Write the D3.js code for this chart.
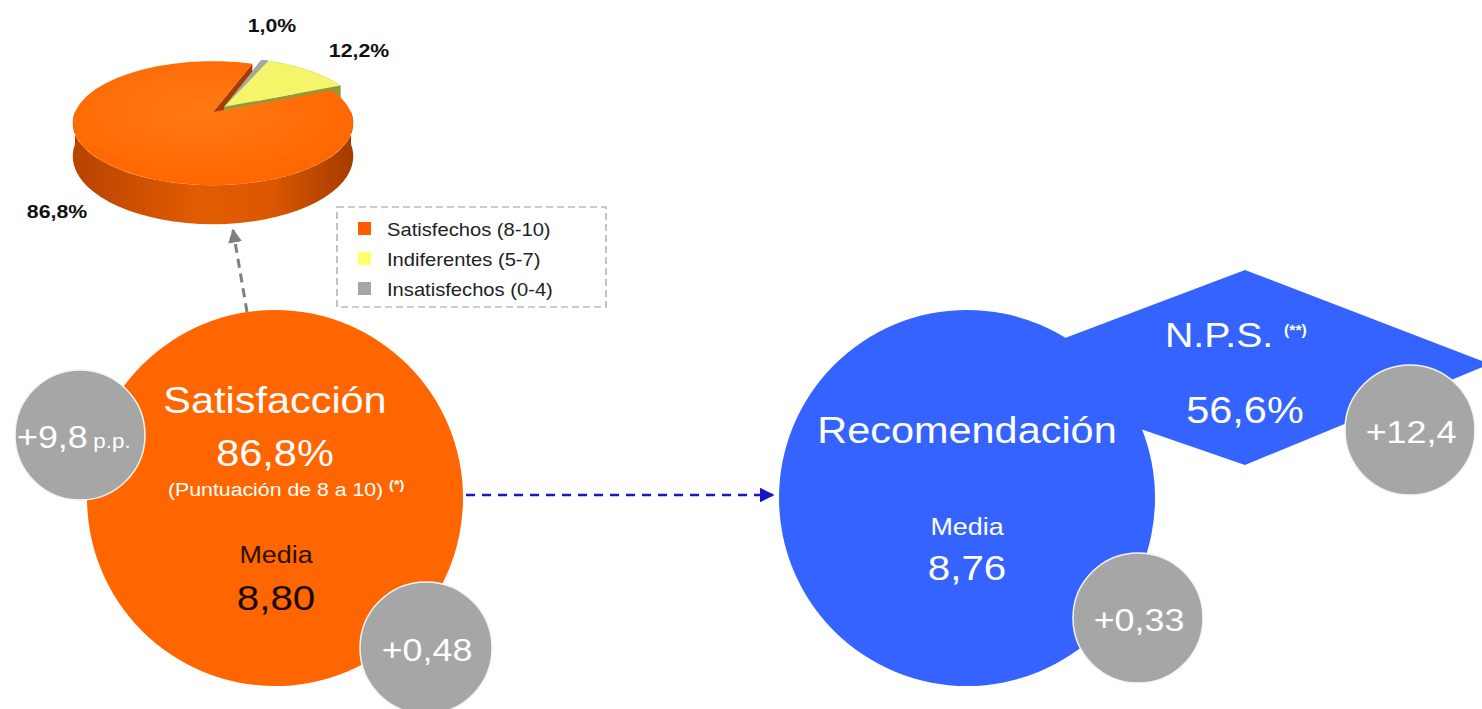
<!DOCTYPE html>
<html>
<head>
<meta charset="utf-8">
<script src="https://cdn.jsdelivr.net/npm/d3@7.9.0/dist/d3.min.js"></script>
<style>
  body { margin: 0; background: #fff; }
  svg { display: block; font-family: 'Liberation Sans', Arial, sans-serif; }
</style>
</head>
<body>
<script>
// ─── DATA ────────────────────────────────────────────────────────────────────
const segments = ['Satisfechos (8-10)', 'Indiferentes (5-7)', 'Insatisfechos (0-4)'];
const shares   = [86.8, 12.2, 1.0];
const segColors = ['#ff6600', '#f5f56a', '#a6a6a6'];

const pctNames   = ['Satisfacción', 'N.P.S.'];
const pctValues  = [86.8, 56.6];
const pctDeltas  = [9.8, 12.4];
const mediaNames = ['Satisfacción', 'Recomendación'];
const medias     = [8.80, 8.76];
const mediaDeltas = [0.48, 0.33];

// ─── SETUP ───────────────────────────────────────────────────────────────────
const W = 1482, H = 709, SX = 1.12;
const loc = d3.formatLocale({ decimal: ',', thousands: '.', grouping: [3], currency: ['', '€'] });
const f1 = loc.format('.1f'), f2 = loc.format('.2f'), s1 = loc.format('+.1f'), s2 = loc.format('+.2f');
const pct = v => f1(v) + '%';

const svg = d3.select('body').append('svg').attr('width', W).attr('height', H);
const defs = svg.append('defs');

const wallGrad = defs.append('linearGradient').attr('id', 'wall')
  .attr('gradientUnits', 'userSpaceOnUse').attr('x1', 74).attr('x2', 352).attr('y1', 0).attr('y2', 0);
[['0', '#b84300'], ['0.45', '#e25c00'], ['0.7', '#dc5800'], ['1', '#a63c00']]
  .forEach(([o, c]) => wallGrad.append('stop').attr('offset', o).attr('stop-color', c));
const topGrad = defs.append('radialGradient').attr('id', 'top').attr('cx', '45%').attr('cy', '40%').attr('r', '60%');
[['0', '#ff7a14'], ['1', '#ff6600']].forEach(([o, c]) => topGrad.append('stop').attr('offset', o).attr('stop-color', c));

function marker(id, color, size) {
  defs.append('marker').attr('id', id)
    .attr('viewBox', '0 0 10 10').attr('refX', 9).attr('refY', 5)
    .attr('markerUnits', 'userSpaceOnUse')
    .attr('markerWidth', size).attr('markerHeight', size).attr('orient', 'auto')
    .append('path').attr('d', 'M0,0L10,5L0,10Z').attr('fill', color);
}
marker('arrGrey', '#7f7f7f', 14);
marker('arrBlue', '#1616c8', 15);

function label(g, x, y, str, size, opts = {}) {
  return g.append('text')
    .attr('transform', `translate(${x},${y}) scale(${SX},1)`)
    .attr('text-anchor', opts.anchor || 'middle')
    .attr('fill', opts.fill || '#fff')
    .style('font-size', size + 'px')
    .style('font-weight', opts.weight || 'normal')
    .text(str);
}

// ─── 3D PIE ──────────────────────────────────────────────────────────────────
const pieG = svg.append('g');
const cx = 213, cy = 112, rx = 138, ry = 60, persp = 0.18, depth = 32;
const START = 19.5 * Math.PI / 180;

function P(a, r, z, off) {
  const u = r * Math.sin(a) + off[0], v = r * Math.cos(a) + off[1];
  const s = 1 + persp * v;
  return [cx + rx * u / s, cy - ry * v / s + z * depth / s];
}

const pieData = segments.map((name, i) => ({ name, value: shares[i], color: segColors[i], idx: i })).reverse();
const arcs = d3.pie().sort(null).value(d => d.value)
  .startAngle(START).endAngle(START + 2 * Math.PI)(pieData);

// slices other than the main one are pulled out together
const rest = arcs.filter(a => a.data.idx !== 0);
const restMid = (d3.min(rest, a => a.startAngle) + d3.max(rest, a => a.endAngle)) / 2;
const explode = [0.12 * Math.sin(restMid), 0.12 * Math.cos(restMid)];
arcs.forEach(a => { a.off = a.data.idx === 0 ? [0, 0] : explode; });

const line = d3.line();
const rim = (a, z, a0, a1) => d3.range(41).map(i => P(a0 + (a1 - a0) * i / 40, 1, z, a.off));
const topPath = a => line([P(0, 0, 0, a.off), ...rim(a, 0, a.startAngle, a.endAngle)]) + 'Z';
const wallPath = (a, a0, a1) => line([...rim(a, 0, a0, a1), ...rim(a, 1, a0, a1).reverse()]) + 'Z';
const facePath = (a, ang) => line([P(ang, 0, 0, a.off), P(ang, 1, 0, a.off), P(ang, 1, 1, a.off), P(ang, 0, 1, a.off)]) + 'Z';

const darker = { 0: '#a83c00', 1: '#8e9a3c', 2: '#747474' };
const main = arcs.find(a => a.data.idx === 0);

// radial faces of the main slice
[main.startAngle, main.endAngle].forEach(ang =>
  pieG.append('path').attr('d', facePath(main, ang)).attr('fill', darker[0]));

// pulled-out slices
rest.forEach(a => {
  pieG.append('path').attr('d', wallPath(a, a.startAngle, a.endAngle)).attr('fill', darker[a.data.idx]);
  [a.startAngle, a.endAngle].forEach(ang =>
    pieG.append('path').attr('d', facePath(a, ang)).attr('fill', darker[a.data.idx]));
});
rest.forEach(a => pieG.append('path').attr('d', topPath(a)).attr('fill', a.data.color));

// main slice wall (front part) and top
pieG.append('path')
  .attr('d', wallPath(main, Math.max(main.startAngle, Math.PI / 2), Math.min(main.endAngle, 3 * Math.PI / 2)))
  .attr('fill', 'url(#wall)');
pieG.append('path').attr('d', topPath(main)).attr('fill', 'url(#top)');

// pie labels
const lblPos = { 0: [57, 218], 1: [359, 57], 2: [272, 32] };
arcs.forEach(a => label(pieG, lblPos[a.data.idx][0], lblPos[a.data.idx][1], pct(a.data.value), 19,
  { fill: '#111', weight: 'bold' }));

// ─── LEGEND ──────────────────────────────────────────────────────────────────
const legend = svg.append('g').attr('transform', 'translate(337,207)');
legend.append('rect').attr('width', 269).attr('height', 100)
  .attr('fill', 'none').attr('stroke', '#9a9a9a').attr('stroke-width', 1.2).attr('stroke-dasharray', '7,4');
segments.forEach((s, i) => {
  const row = legend.append('g').attr('transform', `translate(21,${22 + i * 30})`);
  row.append('rect').attr('y', -7).attr('width', 13).attr('height', 13)
    .attr('fill', i === 0 ? '#ff5a00' : i === 1 ? '#ffff66' : segColors[2]);
  label(row, 29, 7, s, 18, { anchor: 'start', fill: '#222' });
});

// ─── CONNECTORS ──────────────────────────────────────────────────────────────
svg.append('line').attr('x1', 247).attr('y1', 312).attr('x2', 233).attr('y2', 230)
  .attr('stroke', '#7f7f7f').attr('stroke-width', 3).attr('stroke-dasharray', '9,6')
  .attr('marker-end', 'url(#arrGrey)');
svg.append('line').attr('x1', 466).attr('y1', 495).attr('x2', 773).attr('y2', 495)
  .attr('stroke', '#1616c8').attr('stroke-width', 2.5).attr('stroke-dasharray', '9,7')
  .attr('marker-end', 'url(#arrBlue)');

// ─── BUBBLES ─────────────────────────────────────────────────────────────────
const BLUE = '#3563ff', ORANGE = '#ff6600', GREY = '#a6a6a6';

// N.P.S. diamond behind recommendation bubble
svg.append('path')
  .attr('d', line([[1245, 270], [1490, 364], [1245, 465], [975, 372]]) + 'Z')
  .attr('fill', BLUE);

svg.append('circle').attr('cx', 275).attr('cy', 498).attr('r', 188).attr('fill', ORANGE);
svg.append('circle').attr('cx', 967).attr('cy', 498).attr('r', 188).attr('fill', BLUE);

const badges = [
  { x: 80,   y: 435, r: 65, main: s1(pctDeltas[0]), unit: 'p.p.' },
  { x: 426,  y: 648, r: 66, main: s2(mediaDeltas[0]) },
  { x: 1138, y: 618, r: 65, main: s2(mediaDeltas[1]) },
  { x: 1410, y: 430, r: 65, main: s1(pctDeltas[1]) }
];
badges.forEach(b => {
  svg.append('circle').attr('cx', b.x).attr('cy', b.y).attr('r', b.r)
    .attr('fill', GREY).attr('stroke', '#f4f4f4').attr('stroke-width', 1.5);
});

const txt = svg.append('g');
// satisfaction bubble
label(txt, 275, 413, pctNames[0], 37);
label(txt, 275, 466, pct(pctValues[0]), 37);
const sub = label(txt, 168, 496, '(Puntuación de 8 a 10) ', 19, { anchor: 'start' });
sub.append('tspan').attr('dy', -7).style('font-size', '13px').style('font-weight', 'bold').text('(*)');
label(txt, 276, 563, 'Media', 24, { fill: '#2a1000' });
label(txt, 276, 610, f2(medias[0]), 36, { fill: '#1a0800' });

// recommendation bubble
label(txt, 967, 443, mediaNames[1], 37);
label(txt, 967, 535, 'Media', 24);
label(txt, 967, 580, f2(medias[1]), 36);

// N.P.S.
const npsT = label(txt, 1165, 347, pctNames[1] + ' ', 35, { anchor: 'start' });
npsT.append('tspan').attr('dy', -12).style('font-size', '14px').style('font-weight', 'bold').text('(**)');
label(txt, 1245, 423, pct(pctValues[1]), 37);

// grey badges
badges.forEach(b => {
  if (b.unit) {
    const t = label(txt, 17, b.y + 13, b.main, 32, { anchor: 'start' });
    t.append('tspan').attr('dx', 5).style('font-size', '20px').text(b.unit);
  } else {
    label(txt, b.x + 1, b.y + 13, b.main, 32);
  }
});
</script>
</body>
</html>
